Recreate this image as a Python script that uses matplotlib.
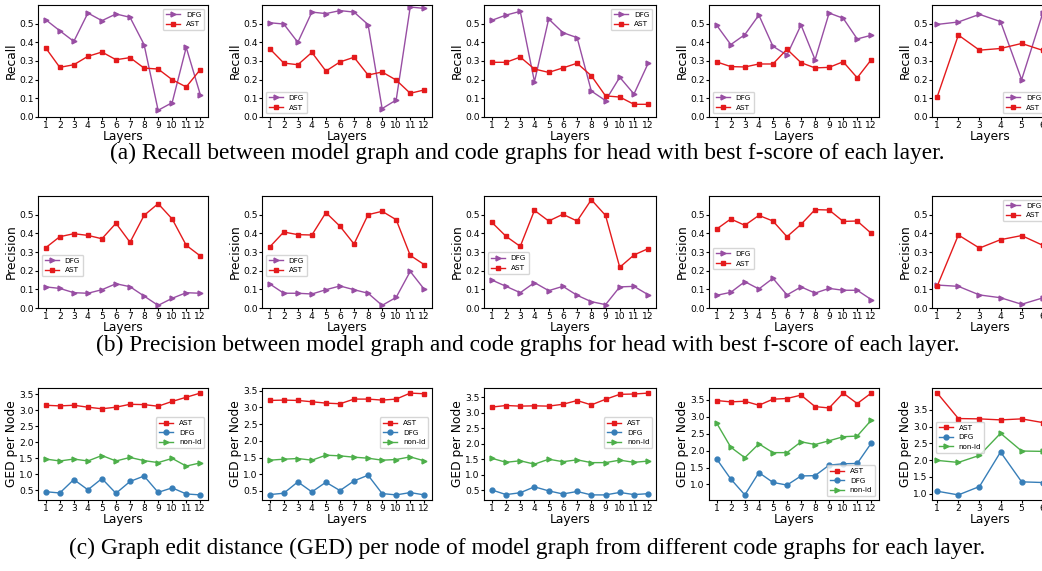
import numpy as np
import matplotlib
matplotlib.use("Agg")
import matplotlib.pyplot as plt
from matplotlib.ticker import FixedLocator

# colours (Set1)
PURPLE = '#984ea3'
RED = '#e41a1c'
BLUE = '#377eb8'
GREEN = '#4daf4a'

layers12 = list(range(1, 13))
layers6 = list(range(1, 7))

# (a) recall, one list per panel
recall_dfg_1 = [0.521, 0.462, 0.405, 0.557, 0.516, 0.552, 0.534, 0.388, 0.036, 0.077, 0.373, 0.120]
recall_ast_1 = [0.370, 0.266, 0.280, 0.325, 0.348, 0.307, 0.318, 0.262, 0.257, 0.200, 0.161, 0.254]
recall_dfg_2 = [0.505, 0.498, 0.400, 0.562, 0.554, 0.570, 0.562, 0.495, 0.045, 0.091, 0.589, 0.582]
recall_ast_2 = [0.366, 0.289, 0.280, 0.346, 0.246, 0.295, 0.320, 0.225, 0.241, 0.198, 0.127, 0.145]
recall_dfg_3 = [0.518, 0.546, 0.566, 0.189, 0.525, 0.452, 0.425, 0.139, 0.088, 0.213, 0.123, 0.288]
recall_ast_3 = [0.293, 0.293, 0.321, 0.257, 0.239, 0.263, 0.288, 0.221, 0.113, 0.107, 0.068, 0.068]
recall_dfg_4 = [0.491, 0.388, 0.441, 0.546, 0.379, 0.332, 0.493, 0.307, 0.557, 0.529, 0.418, 0.438]
recall_ast_4 = [0.295, 0.270, 0.268, 0.284, 0.284, 0.363, 0.291, 0.263, 0.266, 0.296, 0.210, 0.307]
recall_dfg_5 = [0.496, 0.509, 0.550, 0.511, 0.200, 0.556]
recall_ast_5 = [0.109, 0.439, 0.358, 0.367, 0.394, 0.357]

# (b) precision
prec_dfg_1 = [0.113, 0.105, 0.082, 0.079, 0.098, 0.130, 0.114, 0.064, 0.014, 0.052, 0.082, 0.079]
prec_ast_1 = [0.323, 0.382, 0.398, 0.389, 0.371, 0.454, 0.352, 0.496, 0.559, 0.477, 0.336, 0.279]
prec_dfg_2 = [0.129, 0.079, 0.079, 0.075, 0.098, 0.118, 0.098, 0.079, 0.014, 0.057, 0.196, 0.100]
prec_ast_2 = [0.327, 0.407, 0.393, 0.391, 0.511, 0.438, 0.343, 0.500, 0.518, 0.473, 0.282, 0.232]
prec_dfg_3 = [0.150, 0.116, 0.082, 0.136, 0.093, 0.116, 0.068, 0.034, 0.018, 0.113, 0.116, 0.071]
prec_ast_3 = [0.459, 0.384, 0.330, 0.523, 0.466, 0.502, 0.466, 0.580, 0.496, 0.218, 0.284, 0.318]
prec_dfg_4 = [0.068, 0.084, 0.141, 0.102, 0.159, 0.070, 0.113, 0.080, 0.105, 0.095, 0.095, 0.045]
prec_ast_4 = [0.423, 0.477, 0.443, 0.496, 0.466, 0.382, 0.448, 0.527, 0.525, 0.464, 0.466, 0.400]
prec_dfg_5 = [0.123, 0.116, 0.070, 0.055, 0.020, 0.054]
prec_ast_5 = [0.118, 0.391, 0.321, 0.366, 0.388, 0.336]

# (c) GED per node
ged_ast_1 = [3.16, 3.14, 3.16, 3.10, 3.05, 3.10, 3.19, 3.18, 3.13, 3.28, 3.41, 3.54]
ged_dfg_1 = [0.46, 0.42, 0.84, 0.52, 0.87, 0.41, 0.78, 0.95, 0.44, 0.58, 0.39, 0.36]
ged_nonid_1 = [1.48, 1.42, 1.48, 1.42, 1.59, 1.42, 1.53, 1.43, 1.37, 1.50, 1.26, 1.36]
ged_ast_2 = [3.21, 3.22, 3.21, 3.17, 3.13, 3.11, 3.25, 3.25, 3.22, 3.25, 3.43, 3.41]
ged_dfg_2 = [0.39, 0.43, 0.77, 0.47, 0.76, 0.51, 0.80, 0.97, 0.42, 0.38, 0.45, 0.38]
ged_nonid_2 = [1.42, 1.45, 1.47, 1.42, 1.57, 1.55, 1.51, 1.48, 1.42, 1.44, 1.52, 1.40]
ged_ast_3 = [3.18, 3.23, 3.21, 3.22, 3.21, 3.27, 3.39, 3.25, 3.43, 3.59, 3.60, 3.63]
ged_dfg_3 = [0.51, 0.36, 0.42, 0.61, 0.48, 0.38, 0.46, 0.35, 0.35, 0.43, 0.36, 0.39]
ged_nonid_3 = [1.53, 1.40, 1.45, 1.34, 1.50, 1.42, 1.48, 1.39, 1.39, 1.47, 1.40, 1.44]
ged_ast_4 = [3.48, 3.44, 3.46, 3.34, 3.52, 3.54, 3.64, 3.30, 3.26, 3.70, 3.39, 3.70]
ged_dfg_4 = [1.75, 1.16, 0.69, 1.35, 1.06, 0.98, 1.25, 1.26, 1.57, 1.61, 1.62, 2.22]
ged_nonid_4 = [2.81, 2.10, 1.79, 2.20, 1.94, 1.94, 2.26, 2.18, 2.29, 2.41, 2.43, 2.90]
ged_ast_5 = [4.00, 3.24, 3.23, 3.20, 3.23, 3.12]
ged_dfg_5 = [1.07, 0.96, 1.21, 2.24, 1.35, 1.33]
ged_nonid_5 = [1.99, 1.93, 2.14, 2.80, 2.27, 2.26]

captions = [
    '(a) Recall between model graph and code graphs for head with best f-score of each layer.',
    '(b) Precision between model graph and code graphs for head with best f-score of each layer.',
    '(c) Graph edit distance (GED) per node of model graph from different code graphs for each layer.',
]

W, H = 1042, 571
fig = plt.figure(figsize=(W / 100, H / 100), dpi=100)

# panel boxes in pixels: left, width ; rows: top, bottom
col_left = [38, 262, 484, 709, 932]
col_width = [170, 170, 172, 170, 116]
row_top = [5, 196, 388]
row_bot = [117, 308, 500]

TICK_FS = 6.6
LABEL_FS = 8.8
LEG_FS = 5.2


def make_ax(r, c):
    l = col_left[c] / W
    b = 1 - row_bot[r] / H
    w = col_width[c] / W
    h = (row_bot[r] - row_top[r]) / H
    return fig.add_axes([l, b, w, h])


def style(ax, x, ylabel):
    ax.set_xticks(x)
    ax.tick_params(labelsize=TICK_FS, length=2, pad=1.2)
    ax.set_xlabel('Layers', fontsize=LABEL_FS, labelpad=0)
    ax.set_ylabel(ylabel, fontsize=LABEL_FS, labelpad=1)


lk = dict(lw=1, ms=3.5)

# row 1 : recall
rec = [(recall_dfg_1, recall_ast_1, dict(loc='upper right')),
       (recall_dfg_2, recall_ast_2, dict(loc='lower left')),
       (recall_dfg_3, recall_ast_3, dict(loc='upper right')),
       (recall_dfg_4, recall_ast_4, dict(loc='lower left')),
       (recall_dfg_5, recall_ast_5, dict(loc='lower right'))]
for c, (dfg, ast, lg) in enumerate(rec):
    ax = make_ax(0, c)
    x = layers12 if len(dfg) == 12 else layers6
    ax.plot(x, dfg, marker='>', color=PURPLE, label='DFG', **lk)
    ax.plot(x, ast, marker='s', color=RED, label='AST', **lk)
    ax.set_ylim(0, 0.6)
    ax.set_yticks([0.0, 0.1, 0.2, 0.3, 0.4, 0.5])
    style(ax, x, 'Recall')
    ax.legend(fontsize=LEG_FS, **lg)

# row 2 : precision
prec = [(prec_dfg_1, prec_ast_1, dict(loc='center left', bbox_to_anchor=(0, 0.38))),
        (prec_dfg_2, prec_ast_2, dict(loc='center left', bbox_to_anchor=(0, 0.38))),
        (prec_dfg_3, prec_ast_3, dict(loc='center left', bbox_to_anchor=(0, 0.40))),
        (prec_dfg_4, prec_ast_4, dict(loc='center left', bbox_to_anchor=(0, 0.44))),
        (prec_dfg_5, prec_ast_5, dict(loc='upper right'))]
for c, (dfg, ast, lg) in enumerate(prec):
    ax = make_ax(1, c)
    x = layers12 if len(dfg) == 12 else layers6
    ax.plot(x, dfg, marker='>', color=PURPLE, label='DFG', **lk)
    ax.plot(x, ast, marker='s', color=RED, label='AST', **lk)
    ax.set_ylim(0, 0.6)
    ax.set_yticks([0.0, 0.1, 0.2, 0.3, 0.4, 0.5])
    style(ax, x, 'Precision')
    ax.legend(fontsize=LEG_FS, **lg)

# row 3 : GED
ged = [(ged_ast_1, ged_dfg_1, ged_nonid_1, dict(loc='center right', bbox_to_anchor=(1, 0.6))),
       (ged_ast_2, ged_dfg_2, ged_nonid_2, dict(loc='center right', bbox_to_anchor=(1, 0.6))),
       (ged_ast_3, ged_dfg_3, ged_nonid_3, dict(loc='center right', bbox_to_anchor=(1, 0.6))),
       (ged_ast_4, ged_dfg_4, ged_nonid_4, dict(loc='lower right')),
       (ged_ast_5, ged_dfg_5, ged_nonid_5, dict(loc='center left', bbox_to_anchor=(0, 0.56)))]
for c, (ast, dfg, nonid, lg) in enumerate(ged):
    ax = make_ax(2, c)
    x = layers12 if len(ast) == 12 else layers6
    ax.plot(x, ast, marker='s', color=RED, label='AST', **lk)
    ax.plot(x, dfg, marker='o', color=BLUE, label='DFG', **lk)
    ax.plot(x, nonid, marker='>', color=GREEN, label='non-id', **lk)
    ax.yaxis.set_major_locator(FixedLocator([0.5, 1.0, 1.5, 2.0, 2.5, 3.0, 3.5]))
    style(ax, x, 'GED per Node')
    ax.legend(fontsize=LEG_FS, **lg)

cap_y = [153, 345, 548]
for t, y in zip(captions, cap_y):
    fig.text(0.506, 1 - y / H, t, ha='center', va='center',
             fontsize=16.8, family='Liberation Serif')

fig.savefig('out.png', dpi=100)
